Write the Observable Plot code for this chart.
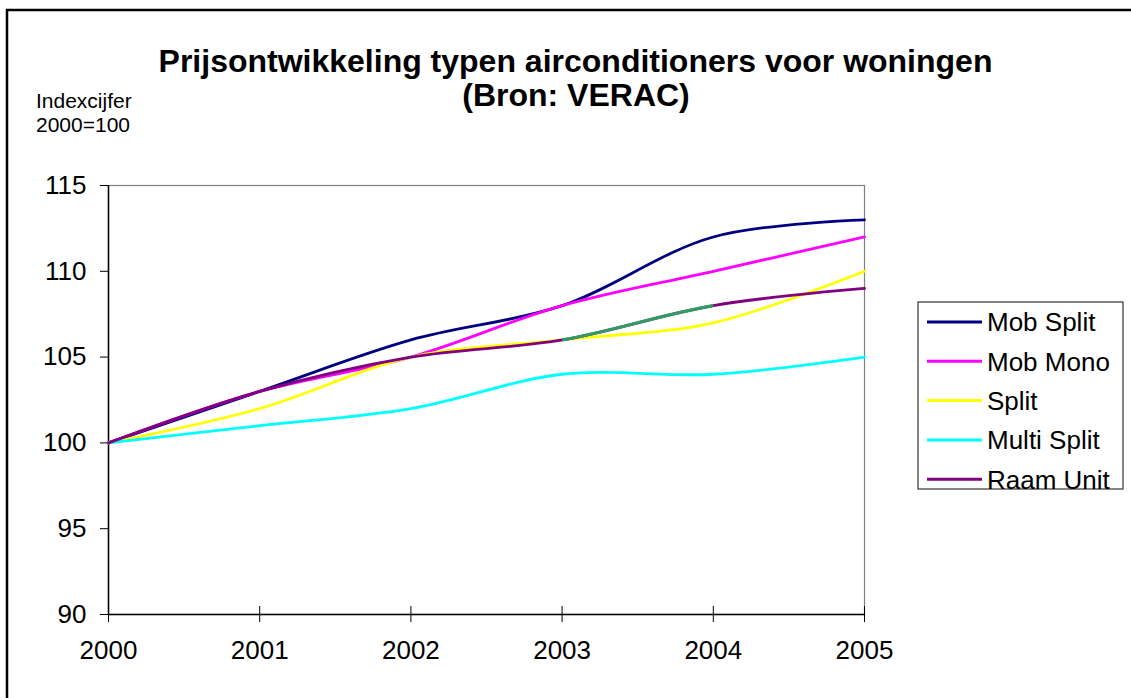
<!DOCTYPE html>
<html>
<head>
<meta charset="utf-8">
<script src="https://cdn.jsdelivr.net/npm/d3@7"></script>
<script src="https://cdn.jsdelivr.net/npm/@observablehq/plot@0.6"></script>
<style>
  html, body { margin: 0; padding: 0; background: white; }
  #chart svg { display: block; }
</style>
</head>
<body>
<div id="chart"></div>
<script>
// Price index per air-conditioner type (2000 = 100)
const years = [2000, 2001, 2002, 2003, 2004, 2005];
const mobSplit   = [100, 103, 106, 108, 112, 113];
const mobMono    = [100, 103, 105, 108, 110, 112];
const split      = [100, 102, 105, 106, 107, 110];
const multiSplit = [100, 101, 102, 104, 104, 105];
const raamUnit   = [100, 103, 105, 106, 108, 109];

const seriesNames  = ["Mob Split", "Mob Mono", "Split", "Multi Split", "Raam Unit"];
const seriesValues = [mobSplit, mobMono, split, multiSplit, raamUnit];
const seriesColors = ["#000080", "#FF00FF", "#FFFF00", "#00FFFF", "#800080"];
// the Raam Unit stretch from 2003 to 2004 is drawn in sea green
const highlightColor = "#339966";
const highlightRange = [2003, 2004];

const yTicks = [90, 95, 100, 105, 110, 115];
const xTicks = years;

const title1 = "Prijsontwikkeling typen airconditioners voor woningen";
const title2 = "(Bron: VERAC)";
const yLabel1 = "Indexcijfer";
const yLabel2 = "2000=100";

const rows = seriesNames.flatMap((name, s) =>
  years.map((year, i) => ({series: name, year, value: seriesValues[s][i]}))
);
const raamRows = rows.filter(d => d.series === "Raam Unit");

const font = "'Liberation Sans', Arial, sans-serif";
const lineWidth = 2.8;

const plot = Plot.plot({
  width: 1131,
  height: 698,
  marginLeft: 108,
  marginRight: 267,
  marginTop: 185,
  marginBottom: 84,
  style: {fontFamily: font, fontSize: "26px", color: "black", background: "white"},
  x: {domain: [2000, 2005], label: null},
  y: {domain: [90, 115], label: null},
  color: {domain: seriesNames, range: seriesColors},
  marks: [
    Plot.frame({stroke: "#808080", strokeWidth: 1.2}),
    Plot.axisY({ticks: yTicks, tickSize: 8, tickPadding: 14, tickFormat: "d", label: null, stroke: "black"}),
    Plot.axisX({ticks: xTicks, tickSize: 8, tickPadding: 18, tickFormat: "d", label: null, stroke: "black"}),
    // inner half of the x ticks, which cross the axis line
    Plot.axisX({ticks: xTicks, tickSize: 8, dy: -8, tickFormat: () => "", label: null, stroke: "black"}),
    Plot.ruleX([2000], {stroke: "black", strokeWidth: 1.5}),
    Plot.ruleY([90], {stroke: "black", strokeWidth: 1.5}),
    Plot.line(rows, {x: "year", y: "value", z: "series", stroke: "series", curve: "catmull-rom", strokeWidth: lineWidth}),
    Plot.line(raamRows, {x: "year", y: "value", stroke: highlightColor, curve: "catmull-rom", strokeWidth: lineWidth + 0.4})
  ]
});

const svg = d3.select(plot);
const xs = plot.scale("x");
const xPos = d3.scaleLinear(xs.domain, xs.range);

// clip the highlight line to the 2003–2004 stretch
const hl = svg.selectAll("path").filter(function () {
  return this.getAttribute("stroke") === highlightColor ||
    (this.parentNode && this.parentNode.getAttribute("stroke") === highlightColor);
});
const x0 = xPos(highlightRange[0]), x1 = xPos(highlightRange[1]);
svg.append("defs").append("clipPath").attr("id", "raam-clip")
  .attr("clipPathUnits", "userSpaceOnUse")
  .append("rect")
  .attr("x", x0).attr("y", 0)
  .attr("width", x1 - x0).attr("height", 698);
hl.attr("clip-path", "url(#raam-clip)");

// outer border
svg.append("rect")
  .attr("x", 7).attr("y", 10).attr("width", 1300).attr("height", 900)
  .attr("fill", "none").attr("stroke", "black").attr("stroke-width", 2.5);

// titles
const titles = svg.append("g").attr("font-family", font).attr("font-weight", "bold")
  .attr("fill", "black").attr("text-anchor", "middle").attr("font-size", 32);
titles.append("text").attr("x", 575.5).attr("y", 72).text(title1);
titles.append("text").attr("x", 576).attr("y", 106).text(title2);

// y axis caption
const cap = svg.append("g").attr("font-family", font).attr("font-size", 21)
  .attr("fill", "black").attr("text-anchor", "start");
cap.append("text").attr("x", 36).attr("y", 108).text(yLabel1);
cap.append("text").attr("x", 36).attr("y", 132).text(yLabel2);

// legend
const legend = svg.append("g").attr("font-family", font).attr("font-size", 26)
  .attr("fill", "black").attr("text-anchor", "start");
legend.append("rect").attr("x", 918).attr("y", 302).attr("width", 205).attr("height", 187)
  .attr("fill", "white").attr("stroke", "#333").attr("stroke-width", 1.2);
seriesNames.forEach((name, i) => {
  const y = 322 + i * 39.3;
  legend.append("line").attr("x1", 927).attr("x2", 982).attr("y1", y).attr("y2", y)
    .attr("stroke", seriesColors[i]).attr("stroke-width", 3);
  legend.append("text").attr("x", 987).attr("y", y).attr("dy", "0.36em").text(name);
});

document.getElementById("chart").appendChild(plot);
</script>
</body>
</html>
